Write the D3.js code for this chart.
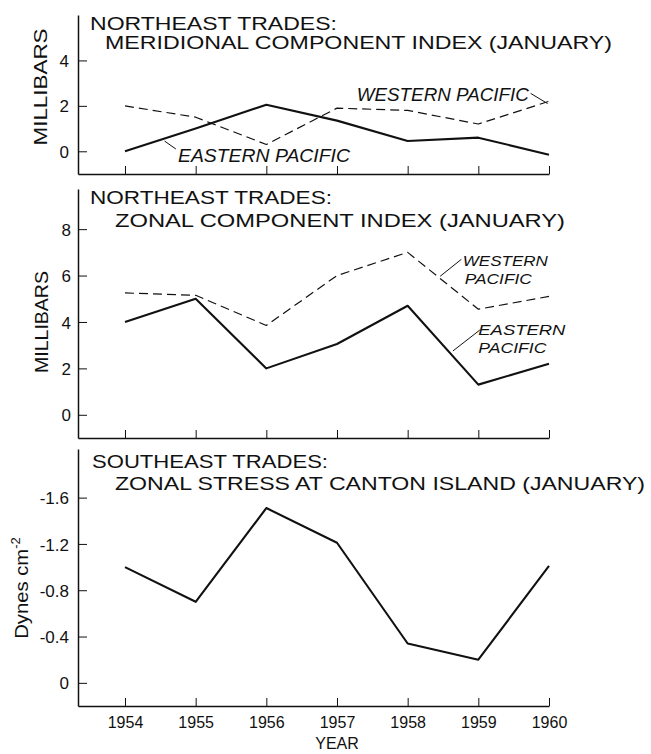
<!DOCTYPE html>
<html>
<head>
<meta charset="utf-8">
<script src="https://cdn.jsdelivr.net/npm/d3@7"></script>
<style>
  body { margin: 0; background: #fff; }
  svg { display: block; }
  text { font-family: "Liberation Sans", Arial, sans-serif; fill: #111; }
</style>
</head>
<body>
<svg id="chart" width="651" height="754"></svg>
<script>
// ---- data ----
const years = [1954, 1955, 1956, 1957, 1958, 1959, 1960];

// meridional component index (mb)
const meridEastern = [0.0, 1.0, 2.05, 1.35, 0.45, 0.6, -0.15];
const meridWestern = [2.0, 1.5, 0.3, 1.9, 1.8, 1.2, 2.2];

// zonal component index (mb)
const zonalEastern = [4.0, 5.0, 2.0, 3.05, 4.7, 1.3, 2.2];
const zonalWestern = [5.25, 5.15, 3.85, 6.0, 7.0, 4.55, 5.1];

// zonal stress at Canton Island (dynes cm-2)
const cantonStress = [-1.0, -0.7, -1.51, -1.21, -0.34, -0.2, -1.01];

const meridTicks = [0, 2, 4];
const zonalTicks = [0, 2, 4, 6, 8];
const stressTicks = [0, -0.4, -0.8, -1.2, -1.6];

const svg = d3.select("#chart");
const ink = "#111";

// shared x scale: years are evenly spaced, axis starts left of 1954
const x = d3.scaleLinear()
  .domain([1954 - 47 / 70.67, 1960])
  .range([78, 549]);

const line = (vals, y) => d3.line()
  .x((d, i) => x(years[i]))
  .y(d => y(d))(vals);

function panel(cfg) {
  const y = d3.scaleLinear().domain(cfg.domain).range(cfg.range);
  const g = svg.append("g");

  // left axis, ticks pointing inward
  const ya = g.append("g")
    .attr("transform", `translate(${x.range()[0]},0)`)
    .call(d3.axisLeft(y).tickValues(cfg.ticks).tickSize(-9).tickSizeOuter(0)
      .tickPadding(cfg.pad).tickFormat(d => String(d)));
  ya.select(".domain").attr("stroke", ink).attr("stroke-width", 1.5);
  ya.selectAll(".tick line").attr("stroke", ink).attr("stroke-width", 1);
  ya.selectAll(".tick text")
    .style("font-size", "17px").attr("fill", ink).attr("dy", "0.36em");

  // bottom axis, ticks pointing up
  const xa = g.append("g")
    .attr("transform", `translate(0,${y.range()[0]})`)
    .call(d3.axisBottom(x).tickValues(years).tickSize(-8).tickSizeOuter(0)
      .tickPadding(10).tickFormat(cfg.yearLabels ? d3.format("d") : ""));
  xa.select(".domain").attr("stroke", ink).attr("stroke-width", 1.5);
  xa.selectAll(".tick line").attr("stroke", ink).attr("stroke-width", 1);
  xa.selectAll(".tick text").style("font-size", "16px").attr("fill", ink)
    .attr("dy", "0.72em");

  // title lines
  cfg.title.forEach(t => {
    g.append("text").attr("x", t.x).attr("y", t.y)
      .attr("textLength", t.w).attr("lengthAdjust", "spacingAndGlyphs")
      .style("font-size", "19px").text(t.s);
  });

  // y label
  const yl = g.append("text")
    .attr("transform", `translate(${cfg.ylab.x},${cfg.ylab.y}) rotate(-90)`)
    .attr("text-anchor", "middle")
    .style("font-size", cfg.ylab.size + "px");
  yl.append("tspan").attr("textLength", cfg.ylab.w)
    .attr("lengthAdjust", "spacingAndGlyphs").text(cfg.ylab.s);
  if (cfg.ylab.sup) {
    yl.append("tspan").attr("dy", "-0.6em").style("font-size", "13px").text(cfg.ylab.sup);
  }

  // series
  cfg.series.forEach(s => {
    g.append("path")
      .attr("d", line(s.vals, y))
      .attr("fill", "none")
      .attr("stroke", ink)
      .attr("stroke-width", s.dashed ? 1.2 : 2.1)
      .attr("stroke-dasharray", s.dashed ? "9,5" : null)
      .attr("stroke-linejoin", "round");
  });

  // annotations (positions in data units)
  (cfg.notes || []).forEach(n => {
    n.lines.forEach((s, i) => {
      g.append("text")
        .attr("x", x(n.at[0]) + (n.indent ? n.indent[i] : 0))
        .attr("y", y(n.at[1]) + i * 18)
        .attr("textLength", n.w[i]).attr("lengthAdjust", "spacingAndGlyphs")
        .style("font-size", n.size + "px").style("font-style", "italic").text(s);
    });
    g.append("line")
      .attr("x1", x(n.lead[0][0])).attr("y1", y(n.lead[0][1]))
      .attr("x2", x(n.lead[1][0])).attr("y2", y(n.lead[1][1]))
      .attr("stroke", ink).attr("stroke-width", 1);
  });
  return y;
}

// ---- top panel: meridional component ----
panel({
  domain: [-1, 6], range: [174, 15], ticks: meridTicks, pad: 9,
  title: [
    { s: "NORTHEAST TRADES:", x: 90, y: 30, w: 247 },
    { s: "MERIDIONAL COMPONENT INDEX (JANUARY)", x: 105, y: 49, w: 507 }
  ],
  ylab: { s: "MILLIBARS", x: 47, y: 87, w: 117, size: 18 },
  series: [
    { vals: meridEastern, dashed: false },
    { vals: meridWestern, dashed: true }
  ],
  notes: [
    { lines: ["WESTERN PACIFIC"], at: [1957.28, 2.2], w: [172], size: 19,
      lead: [[1959.74, 2.55], [1959.98, 2.1]] },
    { lines: ["EASTERN PACIFIC"], at: [1954.75, -0.47], w: [172], size: 19,
      lead: [[1954.56, 0.45], [1954.72, 0.1]] }
  ]
});

// ---- middle panel: zonal component ----
panel({
  domain: [-1, 9.73], range: [438, 189], ticks: zonalTicks, pad: 7,
  title: [
    { s: "NORTHEAST TRADES:", x: 90, y: 203.5, w: 242 },
    { s: "ZONAL COMPONENT INDEX (JANUARY)", x: 115, y: 227, w: 450 }
  ],
  ylab: { s: "MILLIBARS", x: 48, y: 322, w: 102, size: 18 },
  series: [
    { vals: zonalEastern, dashed: false },
    { vals: zonalWestern, dashed: true }
  ],
  notes: [
    { lines: ["WESTERN", "PACIFIC"], at: [1958.78, 6.42], w: [85, 67], indent: [0, 2], size: 15.5,
      lead: [[1958.46, 5.97], [1958.76, 6.7]] },
    { lines: ["EASTERN", "PACIFIC"], at: [1959.0, 3.45], w: [87, 68], indent: [0, 0], size: 15.5,
      lead: [[1958.64, 2.75], [1959.02, 3.65]] }
  ]
});

// ---- bottom panel: Canton Island stress ----
panel({
  domain: [0.2, -2.02], range: [706, 449], ticks: stressTicks, pad: 9, yearLabels: true,
  title: [
    { s: "SOUTHEAST TRADES:", x: 92, y: 468, w: 236 },
    { s: "ZONAL STRESS AT CANTON ISLAND (JANUARY)", x: 115, y: 490, w: 530 }
  ],
  ylab: { s: "Dynes cm", sup: "-2", x: 28, y: 588, w: 90, size: 18 },
  series: [{ vals: cantonStress, dashed: false }]
});

svg.append("text")
  .attr("x", x(1957)).attr("y", 749)
  .attr("text-anchor", "middle")
  .style("font-size", "16px")
  .text("YEAR");
</script>
</body>
</html>
